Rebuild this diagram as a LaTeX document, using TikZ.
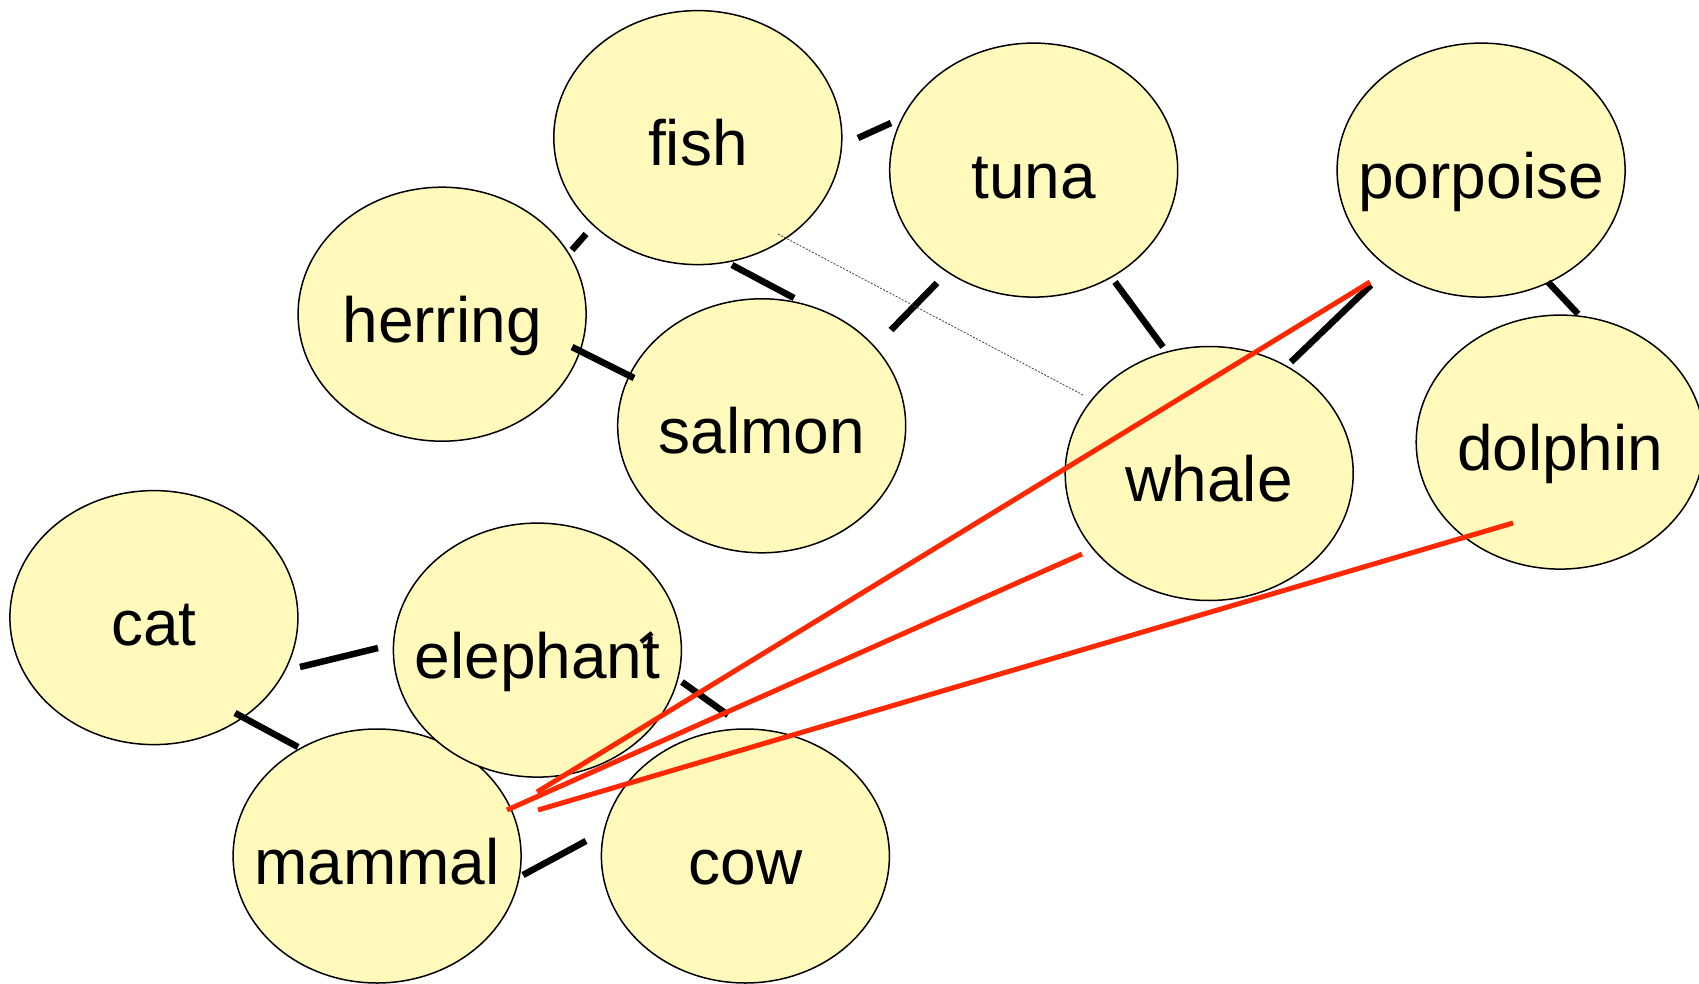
\documentclass[tikz,border=0pt]{standalone}
\usepackage{fontspec}
\setmainfont{Liberation Sans}
\usetikzlibrary{shapes.geometric}
\definecolor{blobfill}{RGB}{255,250,187}
\definecolor{linkred}{RGB}{255,40,0}
\begin{document}
\begin{tikzpicture}[x=1pt,y=-1pt,
  blob/.style={ellipse, draw=black, line width=1.5pt, fill=blobfill,
    minimum width=288pt, minimum height=254pt, inner sep=0pt},
  word/.style={anchor=base, yshift=-28pt, inner sep=0pt,
    font=\fontsize{64}{76}\selectfont},
  stub/.style={line width=6.5pt},
  link/.style={draw=linkred, line width=5pt},
  faint/.style={draw=black!75, line width=0.8pt, dash pattern=on 2pt off 1.5pt}]

\useasboundingbox (0,0) rectangle (1699,984);
\clip (0,0) rectangle (1699,984);

% concept bubbles
\node[blob] (fish)     at (697.8,137.6)  {};
\node[word] at (fish.center) {fish};
\node[blob] (tuna)     at (1033.7,170.1) {};
\node[word] at (tuna.center) {tuna};
\node[blob] (porpoise) at (1481.1,170.1) {};
\node[word] at (porpoise.center) {porpoise};
\node[blob] (herring)  at (442.1,314.2)  {};
\node[word] at (herring.center) {herring};
\node[blob] (salmon)   at (761.7,425.8)  {};
\node[word] at (salmon.center) {salmon};
\node[blob] (whale)    at (1209.2,473.5) {};
\node[word] at (whale.center) {whale};
\node[blob] (dolphin)  at (1560.2,442.1) {};
\node[word] at (dolphin.center) {dolphin};
\node[blob] (cat)      at (153.9,617.6)  {};
\node[word] at (cat.center) {cat};
\node[blob] (mammal)   at (377.1,856)    {};
\node[word] at (mammal.center) {mammal};
\node[blob] (elephant) at (537.4,650.1)  {};
\node[word] at (elephant.center) {elephant};
\node[blob] (cow)      at (745.4,856)    {};
\node[word] at (cow.center) {cow};

% end points of the short link marks
\coordinate (fishTunaA)   at (858,138);
\coordinate (fishTunaB)   at (891,123);
\coordinate (fishHerA)    at (572,250);
\coordinate (fishHerB)    at (586,234);
\coordinate (fishSalA)    at (732,265);
\coordinate (fishSalB)    at (794,298);
\coordinate (herSalA)     at (572,347);
\coordinate (herSalB)     at (634,378);
\coordinate (tunaSalA)    at (937,283);
\coordinate (tunaSalB)    at (891,330);
\coordinate (tunaWhaleA)  at (1115,282);
\coordinate (tunaWhaleB)  at (1163,347);
\coordinate (whalePorA)   at (1291,362);
\coordinate (whalePorB)   at (1371,285);
\coordinate (porDolA)     at (1548,282);
\coordinate (porDolB)     at (1578,314);
\coordinate (catEleA)     at (300,667);
\coordinate (catEleB)     at (378,648);
\coordinate (catMamA)     at (235,713);
\coordinate (catMamB)     at (298,747);
\coordinate (eleCowA)     at (682,682);
\coordinate (eleCowB)     at (728,715);
\coordinate (mamCowA)     at (523,875);
\coordinate (mamCowB)     at (586,841);
\coordinate (eleTickA)    at (641,642);
\coordinate (eleTickB)    at (652,633);

% black link marks
\draw[stub] (fishTunaA) -- (fishTunaB);
\draw[stub] (fishHerA) -- (fishHerB);
\draw[stub] (fishSalA) -- (fishSalB);
\draw[stub] (herSalA) -- (herSalB);
\draw[stub] (tunaSalA) -- (tunaSalB);
\draw[stub] (tunaWhaleA) -- (tunaWhaleB);
\draw[stub] (whalePorA) -- (whalePorB);
\draw[stub] (porDolA) -- (porDolB);
\draw[stub] (catEleA) -- (catEleB);
\draw[stub] (catMamA) -- (catMamB);
\draw[stub] (eleCowA) -- (eleCowB);
\draw[stub] (mamCowA) -- (mamCowB);
\draw[line width=4.5pt] (eleTickA) -- (eleTickB);

% faint dashed link
\coordinate (fishDot)  at (778,234);
\coordinate (whaleDot) at (1083,395);
\draw[faint] (fishDot) -- (whaleDot);

% red links to mammal
\coordinate (mamRedA) at (537,792);
\coordinate (porRed)  at (1370,282);
\coordinate (mamRedB) at (507,810);
\coordinate (whaleRed) at (1082,554);
\coordinate (mamRedC) at (538,810);
\coordinate (dolRed)  at (1513,523);
\draw[link] (mamRedA) -- (porRed);
\draw[link] (mamRedB) -- (whaleRed);
\draw[link] (mamRedC) -- (dolRed);
\end{tikzpicture}
\end{document}
